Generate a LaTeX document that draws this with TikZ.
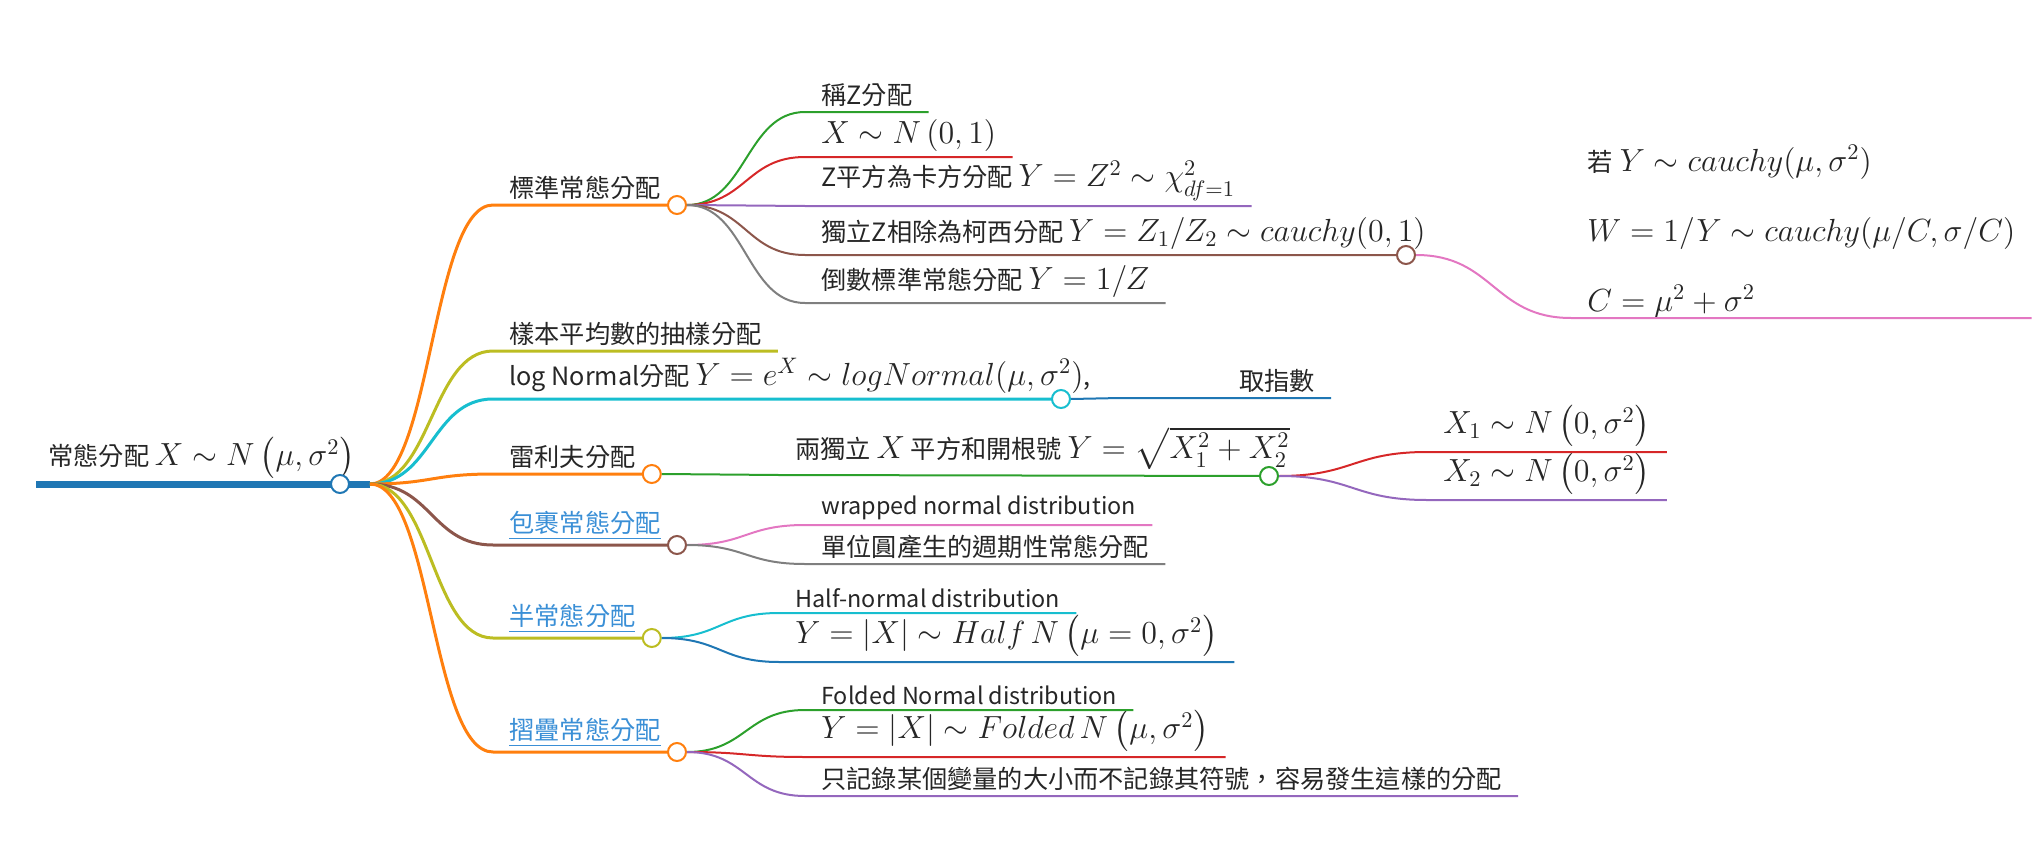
\RequirePackage{fix-cm}
\documentclass[tikz,border=0pt]{standalone}
\usepackage[no-math]{fontspec}
\setmainfont{Noto Sans CJK TC}
\usepackage{amsmath}
\usepackage{tikz}
\usetikzlibrary{calc,positioning}

\definecolor{mmblue}{HTML}{1F77B4}
\definecolor{mmorange}{HTML}{FF7F0E}
\definecolor{mmgreen}{HTML}{2CA02C}
\definecolor{mmred}{HTML}{D62728}
\definecolor{mmpurple}{HTML}{9467BD}
\definecolor{mmbrown}{HTML}{8C564B}
\definecolor{mmpink}{HTML}{E377C2}
\definecolor{mmgray}{HTML}{7F7F7F}
\definecolor{mmolive}{HTML}{BCBD22}
\definecolor{mmcyan}{HTML}{17BECF}
\definecolor{mmlink}{HTML}{3A8FD6}

\newcommand{\fm}[1]{{\fontsize{16}{19}\selectfont$#1$}}
\newcommand{\lnk}[1]{\textcolor{mmlink}{\underline{#1}}}

\begin{document}
\begin{tikzpicture}[
  x=0.5pt, y=-0.5pt,
  lbl/.style={anchor=south west, inner xsep=8pt, inner ysep=2.5pt, text=black!85,
    font=\fontsize{12.6}{15}\selectfont},
  entxt/.style={lbl, font=\fontsize{11.7}{14}\selectfont},
  trunk/.style={line width=3.5pt, draw=mmblue},
  branch/.style={line width=1.5pt},
  twig/.style={line width=1pt},
  knot/.style={circle, draw=#1, fill=white, line width=1pt, minimum size=9pt, inner sep=0pt},
  link/.style={to path={let \p1=(\tikztostart), \p2=(\tikztotarget) in
    .. controls ({(\x1+\x2)/2},\y1) and ({(\x1+\x2)/2},\y2) .. (\tikztotarget)}}
]
\useasboundingbox (0,0) rectangle (2036,846);

% root
\node[lbl, inner xsep=6pt] (root) at (36,484) {常態分配 \fm{X\sim N\left(\mu,\sigma^2\right)}};
\coordinate (hub) at (370,484);
\draw[trunk] (root.south west) -- (hub);

% first level
\node[lbl] (std) at (493,205) {標準常態分配};
\node[lbl] (mean) at (493,351) {樣本平均數的抽樣分配};
\node[lbl] (logn) at (493,399) {log Normal分配 \fm{Y=e^X\sim logNormal(\mu,\sigma^2)},};
\node[lbl] (rayl) at (493,474) {雷利夫分配};
\node[lbl] (wrap) at (493,545) {\lnk{包裹常態分配}};
\node[lbl] (half) at (493,638) {\lnk{半常態分配}};
\node[lbl] (fold) at (493,752) {\lnk{摺疊常態分配}};
\coordinate (lognend) at (1061,399);

\draw[branch, mmorange] (hub) to[link] (std.south west) -- (std.south east);
\draw[branch, mmolive] (hub) to[link] (mean.south west) -- (mean.south east);
\draw[branch, mmcyan] (hub) to[link] (logn.south west) -- (lognend);
\draw[branch, mmorange] (hub) to[link] (rayl.south west) -- (rayl.south east);
\draw[branch, mmbrown] (hub) to[link] (wrap.south west) -- (wrap.south east);
\draw[branch, mmolive] (hub) to[link] (half.south west) -- (half.south east);
\draw[branch, mmorange] (hub) to[link] (fold.south west) -- (fold.south east);

\node[knot=mmblue] (rootc) at (340,484) {};
\node[knot=mmorange] (stdc) at (std.south east) {};
\node[knot=mmcyan] (lognc) at (lognend) {};
\node[knot=mmorange] (raylc) at (rayl.south east) {};
\node[knot=mmbrown] (wrapc) at (wrap.south east) {};
\node[knot=mmolive] (halfc) at (half.south east) {};
\node[knot=mmorange] (foldc) at (fold.south east) {};

% standard normal
\node[lbl] (zname) at (805,112) {稱Z分配};
\node[lbl] (zdist) at (805,157) {\fm{X\sim N\left(0,1\right)}};
\node[lbl] (chisq) at (805,206) {Z平方為卡方分配 \fm{Y=Z^2\sim\chi^2_{df=1}}};
\node[lbl] (ratio) at (805,255) {獨立Z相除為柯西分配 \fm{Y=Z_1/Z_2\sim cauchy(0,1)}};
\node[lbl] (recip) at (805,303) {倒數標準常態分配 \fm{Y=1/Z}};
\coordinate (ratioend) at (1406,255);

\draw[twig, mmgreen] (stdc.east) to[link] (zname.south west) -- (zname.south east);
\draw[twig, mmred] (stdc.east) to[link] (zdist.south west) -- (zdist.south east);
\draw[twig, mmpurple] (stdc.east) to[link] (chisq.south west) -- (chisq.south east);
\draw[twig, mmbrown] (stdc.east) to[link] (ratio.south west) -- (ratioend);
\draw[twig, mmgray] (stdc.east) to[link] (recip.south west) -- (recip.south east);

\node[knot=mmbrown] (ratioc) at (ratioend) {};

\node[lbl, align=left, inner ysep=0pt, font=\fontsize{16}{35}\selectfont] (cauchy) at (1571,318)
  {{\fontsize{12.6}{15}\selectfont 若} $Y\sim cauchy(\mu,\sigma^2)$\\
   $W=1/Y\sim cauchy(\mu/C,\sigma/C)$\\
   $C=\mu^2+\sigma^2$};
\draw[twig, mmpink] (ratioc.east) to[link] (cauchy.south west) -- (cauchy.south east);

% log normal
\node[lbl, anchor=south east, text width=89pt, align=right] (expo) at (1331,398) {取指數};
\draw[twig, mmblue] (lognc.east) to[link] (expo.south west) -- (expo.south east);

% rayleigh
\node[lbl] (sqrt) at (779,475) {兩獨立 \fm{X} 平方和開根號 \fm{Y=\sqrt{X_1^2+X_2^2}}};
\coordinate (sqrtend) at (1269,476);
\draw[twig, mmgreen] (raylc.east) to[link] (sqrt.south west) -- (sqrtend);
\node[knot=mmgreen] (sqrtc) at (sqrtend) {};

\node[lbl] (xone) at (1427,452) {\fm{X_1\sim N\left(0,\sigma^2\right)}};
\node[lbl] (xtwo) at (1427,500) {\fm{X_2\sim N\left(0,\sigma^2\right)}};
\draw[twig, mmred] (sqrtc.east) to[link] (xone.south west) -- (xone.south east);
\draw[twig, mmpurple] (sqrtc.east) to[link] (xtwo.south west) -- (xtwo.south east);

% wrapped
\node[entxt] (wrapen) at (805,525) {wrapped normal distribution};
\node[lbl] (wrapzh) at (805,564) {單位圓產生的週期性常態分配};
\draw[twig, mmpink] (wrapc.east) to[link] (wrapen.south west) -- (wrapen.south east);
\draw[twig, mmgray] (wrapc.east) to[link] (wrapzh.south west) -- (wrapzh.south east);

% half normal
\node[entxt] (halfen) at (779,613) {Half-normal distribution};
\node[lbl] (halfeq) at (779,662) {\fm{Y=|X|\sim Half\,N\left(\mu=0,\sigma^2\right)}};
\draw[twig, mmcyan] (halfc.east) to[link] (halfen.south west) -- (halfen.south east);
\draw[twig, mmblue] (halfc.east) to[link] (halfeq.south west) -- (halfeq.south east);

% folded normal
\node[entxt] (folden) at (805,710) {Folded Normal distribution};
\node[lbl] (foldeq) at (805,757) {\fm{Y=|X|\sim Folded\,N\left(\mu,\sigma^2\right)}};
\node[lbl] (foldzh) at (805,796) {只記錄某個變量的大小而不記錄其符號，容易發生這樣的分配};
\draw[twig, mmgreen] (foldc.east) to[link] (folden.south west) -- (folden.south east);
\draw[twig, mmred] (foldc.east) to[link] (foldeq.south west) -- (foldeq.south east);
\draw[twig, mmpurple] (foldc.east) to[link] (foldzh.south west) -- (foldzh.south east);
\end{tikzpicture}
\end{document}
